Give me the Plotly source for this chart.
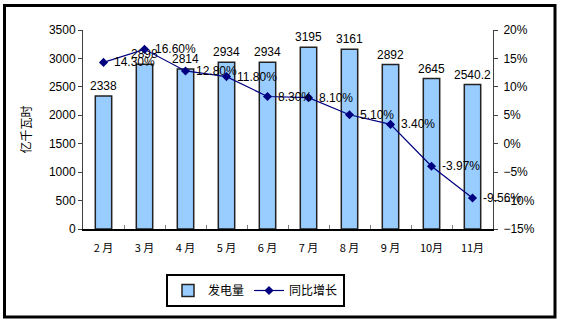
import plotly.graph_objects as go

months = ["2 月", "3 月", "4 月", "5 月", "6 月", "7 月", "8 月", "9 月", "10月", "11月"]
generation = [2338, 2898, 2814, 2934, 2934, 3195, 3161, 2892, 2645, 2540.2]
gen_labels = ["2338", "2898", "2814", "2934", "2934", "3195", "3161", "2892", "2645", "2540.2"]
growth = [14.30, 16.60, 12.80, 11.80, 8.30, 8.10, 5.10, 3.40, -3.97, -9.56]
growth_labels = ["14.30%", "16.60%", "12.80%", "11.80%", "8.30%", "8.10%", "5.10%", "3.40%", "-3.97%", "-9.56%"]

W, H = 574, 324
L, R, T, B = 83, 81, 30, 95
pw, ph = W - L - R, H - T - B

def px_x(x):
    return (x - L) / pw

def px_y(y):
    return (H - B - y) / ph

latin = "Liberation Sans, Arial, sans-serif"
cjk = "Noto Sans CJK SC, sans-serif"

fig = go.Figure()
fig.add_trace(go.Bar(
    x=months, y=generation, name="发电量",
    marker=dict(color="#99CCFF", line=dict(color="#222222", width=1.5)),
    text=gen_labels, textposition="outside", cliponaxis=False, constraintext="none",
    textfont=dict(family=latin, size=12, color="black"),
    yaxis="y",
))
fig.add_trace(go.Scatter(
    x=months, y=growth, name="同比增长", mode="lines+markers",
    line=dict(color="#000080", width=1.2),
    marker=dict(symbol="diamond", size=7, color="#000080"),
    cliponaxis=False,
    yaxis="y2",
))

for m, g, lab in zip(months, growth, growth_labels):
    fig.add_annotation(
        x=m, y=g, xref="x", yref="y2", text=lab, showarrow=False,
        xanchor="left", yanchor="middle", xshift=8,
        font=dict(family=latin, size=12, color="black"),
    )

fig.update_layout(
    width=W, height=H,
    margin=dict(l=L, r=R, t=T, b=B, autoexpand=False),
    paper_bgcolor="white", plot_bgcolor="white",
    bargap=0.6,
    showlegend=True,
    legend=dict(
        orientation="h", x=px_x(255.5), xanchor="center", y=px_y(274), yanchor="top",
        bordercolor="black", borderwidth=2, font=dict(family=cjk, size=12, color="black"),
        itemwidth=30, tracegroupgap=0,
    ),
    xaxis=dict(
        type="category", range=[-0.5, len(months) - 0.5], autorange=False,
        showline=True, linecolor="black", linewidth=1.5,
        ticks="inside", tickson="boundaries", ticklen=4, tickcolor="#808080",
        tickfont=dict(family=cjk, size=11, color="black"), ticklabelstandoff=8,
        showgrid=False, zeroline=False,
    ),
    yaxis=dict(
        range=[0, 3500], dtick=500, showline=True, linecolor="#404040", linewidth=1,
        ticks="outside", ticklen=4, tickcolor="#404040",
        tickfont=dict(family=latin, size=12, color="black"),
        showgrid=False, zeroline=False,
        title=dict(text="亿千瓦时", font=dict(family=cjk, size=12, color="black"), standoff=14),
    ),
    yaxis2=dict(
        range=[-15, 20], dtick=5, ticksuffix="%", overlaying="y", side="right",
        showline=True, linecolor="#404040", linewidth=1,
        ticks="outside", ticklen=4, tickcolor="#404040",
        tickfont=dict(family=latin, size=12, color="black"), ticklabelstandoff=3,
        showgrid=False, zeroline=False,
    ),
    shapes=[dict(
        type="rect", xref="paper", yref="paper",
        x0=px_x(4.5), x1=px_x(555), y0=px_y(317), y1=px_y(5.5),
        line=dict(color="black", width=3), fillcolor="rgba(0,0,0,0)", layer="above",
    )],
)

fig.write_html("out.html")
